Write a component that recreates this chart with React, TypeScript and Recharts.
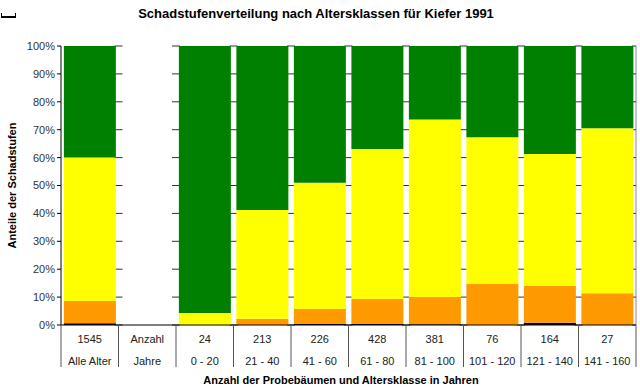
import React from 'react';
import { BarChart, Bar, XAxis, YAxis, CartesianGrid } from 'recharts';

const ageClasses = ['Alle Alter', 'Jahre', '0 - 20', '21 - 40', '41 - 60', '61 - 80', '81 - 100', '101 - 120', '121 - 140', '141 - 160'];
const sampleCounts = ['1545', 'Anzahl', '24', '213', '226', '428', '381', '76', '164', '27'];

// share of each damage level in percent (bottom to top)
const deadShare = [0.6, 0, 0, 0, 0.4, 0.4, 0.3, 0, 0.8, 0];
const severeShare = [8.0, 0, 0, 2.2, 5.3, 8.9, 9.7, 14.7, 13.2, 11.4];
const slightShare = [51.4, 0, 4.3, 39.0, 45.3, 53.8, 63.7, 52.6, 47.3, 59.1];
const healthyShare = [40.0, 0, 95.7, 58.8, 49.0, 36.9, 26.3, 32.7, 38.7, 29.5];

const yTicks = [0, 10, 20, 30, 40, 50, 60, 70, 80, 90, 100];

const data = ageClasses.map((name, i) => ({
  name,
  count: sampleCounts[i],
  dead: deadShare[i],
  severe: severeShare[i],
  slight: slightShare[i],
  healthy: healthyShare[i],
}));

const FONT = '"Liberation Sans", Arial, sans-serif';
const W = 640;
const H = 387;
const PLOT_LEFT = 61;
const PLOT_RIGHT = 4;
const band = (W - PLOT_LEFT - PLOT_RIGHT) / ageClasses.length;

const TableTick = (props: any) => {
  const { x, y, payload, index } = props;
  const left = x - band / 2;
  return (
    <g>
      <line x1={left} x2={left} y1={y} y2={y + 42} stroke="#555" strokeWidth={1} />
      {index === ageClasses.length - 1 && (
        <line x1={left + band} x2={left + band} y1={y} y2={y + 42} stroke="#555" strokeWidth={1} />
      )}
      <text x={x} y={y + 18} textAnchor="middle" fontSize={11} fontFamily={FONT} fill="#222">
        {data[index].count}
      </text>
      <text x={x} y={y + 40} textAnchor="middle" fontSize={11} fontFamily={FONT} fill="#222">
        {payload.value}
      </text>
    </g>
  );
};

const gridMarks = (props: any) => {
  const { x1, x2, y1, index, y, height } = props;
  const marks = [];
  for (let i = 1; i <= ageClasses.length; i++) {
    const bx = x1 + i * band;
    marks.push(<line key={i} x1={bx - 4} x2={Math.min(bx + 4, x2)} y1={y1} y2={y1} stroke="#333" strokeWidth={1} />);
  }
  return (
    <g key={`g-${index}`}>
      {index === 0 && <line x1={x2} x2={x2} y1={y} y2={y + height} stroke="#888" strokeWidth={1} />}
      {marks}
    </g>
  );
};

const App = () => {
  return (
    <div style={{ position: 'absolute', left: 0, top: 0, width: W, height: H, background: '#fff', fontFamily: FONT }}>
      <div style={{ position: 'absolute', left: 1, top: 13, width: 13, height: 3, borderLeft: '1px solid #000', borderRight: '1px solid #000', borderBottom: '2px solid #000' }} />
      <div style={{ position: 'absolute', left: 0, top: 6, width: 632, textAlign: 'center', fontSize: 13, fontWeight: 'bold', color: '#000' }}>
        Schadstufenverteilung nach Altersklassen für Kiefer 1991
      </div>
      <BarChart
        width={W}
        height={H}
        data={data}
        margin={{ top: 46, right: PLOT_RIGHT, bottom: 0, left: 0 }}
        barCategoryGap="5%"
      >
        <CartesianGrid vertical={false} horizontal={gridMarks} />
        <XAxis
          dataKey="name"
          axisLine={{ stroke: '#000', strokeWidth: 1 }}
          tickLine={false}
          tickSize={0}
          tickMargin={0}
          interval={0}
          height={62}
          tick={<TableTick />}
          label={{
            content: (p: any) => (
              <text x={341} y={p.viewBox.y + 59} textAnchor="middle" fontSize={11} fontWeight="bold" fontFamily={FONT} fill="#000">
                Anzahl der Probebäumen und Altersklasse in Jahren
              </text>
            ),
          }}
        />
        <YAxis
          width={PLOT_LEFT}
          domain={[0, 100]}
          ticks={yTicks}
          tickFormatter={(v: number) => `${v}%`}
          axisLine={{ stroke: '#000', strokeWidth: 1 }}
          tickLine={{ stroke: '#000' }}
          tickSize={4}
          tick={{ fontSize: 11, fontFamily: FONT, fill: '#333' }}
          label={{
            content: (p: any) => {
              const cy = p.viewBox.y + p.viewBox.height / 2;
              return (
                <text x={16} y={cy} transform={`rotate(-90 16 ${cy})`} textAnchor="middle" fontSize={11} fontWeight="bold" fontFamily={FONT} fill="#000">
                  Anteile der Schadstufen
                </text>
              );
            },
          }}
        />
        <Bar dataKey="dead" stackId="s" fill="#000000" isAnimationActive={false} />
        <Bar dataKey="severe" stackId="s" fill="#FF9900" isAnimationActive={false} />
        <Bar dataKey="slight" stackId="s" fill="#FFFF00" isAnimationActive={false} />
        <Bar dataKey="healthy" stackId="s" fill="#008000" isAnimationActive={false} />
      </BarChart>
    </div>
  );
};

export default App;
